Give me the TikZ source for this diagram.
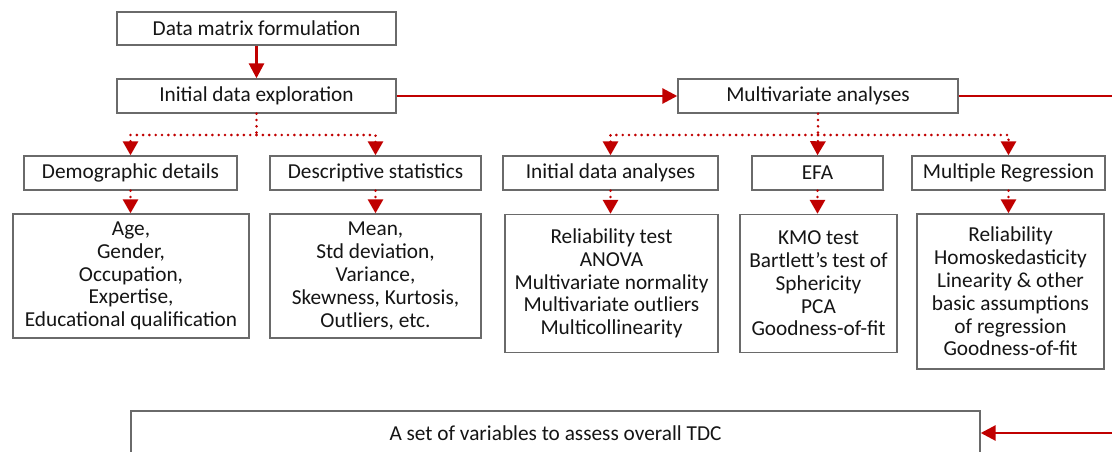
\documentclass[tikz,border=0pt]{standalone}
\usepackage{fontspec}
\setmainfont{Carlito}
\usetikzlibrary{arrows.meta}
\definecolor{dred}{HTML}{C00000}
\definecolor{bgray}{HTML}{6A6A6A}
\definecolor{tcol}{HTML}{151515}
\begin{document}
\begin{tikzpicture}[x=1pt,y=-1pt,
  box/.style={draw=bgray, line width=1.4pt, fill=white, inner sep=0pt, align=center,
    text=tcol, font=\fontsize{21.3}{22.8}\selectfont},
  solidarrow/.style={draw=dred, line width=2.8pt, -{Triangle[length=15pt,width=15pt]}},
  solidline/.style={draw=dred, line width=2.8pt},
  dotarrow/.style={draw=dred, line width=2.9pt, line cap=round, dash pattern=on 0pt off 6.3pt,
    -{Triangle[length=14pt,width=15pt]}},
  dotline/.style={draw=dred, line width=2.9pt, line cap=round, dash pattern=on 0pt off 6.3pt}
]
\useasboundingbox (0,0) rectangle (1112,452);
\clip (0,0) rectangle (1112,452);

% top row
\node[box, minimum width=279pt, minimum height=33pt] (dmf) at (256.5,28.5) {Data matrix formulation};
\node[box, minimum width=279pt, minimum height=34pt] (ide) at (256.5,96) {Initial data exploration};
\node[box, minimum width=280pt, minimum height=34pt] (ma) at (818,96) {Multivariate analyses};

% second row
\node[box, minimum width=213pt, minimum height=34pt] (dem) at (130.5,173) {Demographic details};
\node[box, minimum width=211pt, minimum height=34pt] (des) at (375.5,173) {Descriptive statistics};
\node[box, minimum width=215pt, minimum height=34pt] (ida) at (610.5,173) {Initial data analyses};
\node[box, minimum width=131pt, minimum height=34pt] (efa) at (817.5,173) {EFA};
\node[box, minimum width=193pt, minimum height=34pt] (mr) at (1008.5,173) {Multiple Regression};

% third row
\node[box, minimum width=236pt, minimum height=124pt] (age) at (131,276)
  {Age,\\Gender,\\Occupation,\\Expertise,\\Educational qualification};
\node[box, minimum width=211pt, minimum height=124pt] (mean) at (375.5,276)
  {Mean,\\Std deviation,\\Variance,\\Skewness, Kurtosis,\\Outliers, etc.};
\node[box, minimum width=213pt, minimum height=138pt] (rel) at (611.5,283.5)
  {Reliability test\\ANOVA\\Multivariate normality\\Multivariate outliers\\Multicollinearity};
\node[box, minimum width=157pt, minimum height=138pt] (kmo) at (818.5,283.5)
  {KMO test\\Bartlett’s test of\\Sphericity\\PCA\\Goodness-of-fit};
\node[box, minimum width=187pt, minimum height=155pt] (reg) at (1010.5,291.5)
  {Reliability\\Homoskedasticity\\Linearity \& other\\basic assumptions\\of regression\\Goodness-of-fit};

% bottom
\node[box, minimum width=849pt, minimum height=44pt] (tdc) at (555.5,433) {A set of variables to assess overall TDC};

\coordinate (rout) at (1114,96);
\coordinate (rin) at (1114,433);

% solid connectors
\draw[solidarrow] (dmf.south) -- (ide.north);
\draw[solidarrow] (ide.east) -- (ma.west);
\draw[solidline] (ma.east) -- (rout);
\draw[solidarrow] (rin) -- (tdc.east);

% dotted connectors
\coordinate (j1) at (256.5,135);
\coordinate (j2) at (818,135);
\draw[dotline] (ide.south) -- (j1);
\draw[dotarrow] (j1) -| (dem.north);
\draw[dotarrow] (j1) -| (des.north);
\draw[dotline] (ma.south) -- (j2);
\draw[dotarrow] (j2) -| (ida.north);
\draw[dotarrow] (j2) -- (efa.north);
\draw[dotarrow] (j2) -| (mr.north);

\draw[dotarrow] (dem.south) -- (dem.south |- age.north);
\draw[dotarrow] (des.south) -- (des.south |- mean.north);
\draw[dotarrow] (ida.south) -- (ida.south |- rel.north);
\draw[dotarrow] (efa.south) -- (efa.south |- kmo.north);
\draw[dotarrow] (mr.south) -- (mr.south |- reg.north);
\end{tikzpicture}
\end{document}
